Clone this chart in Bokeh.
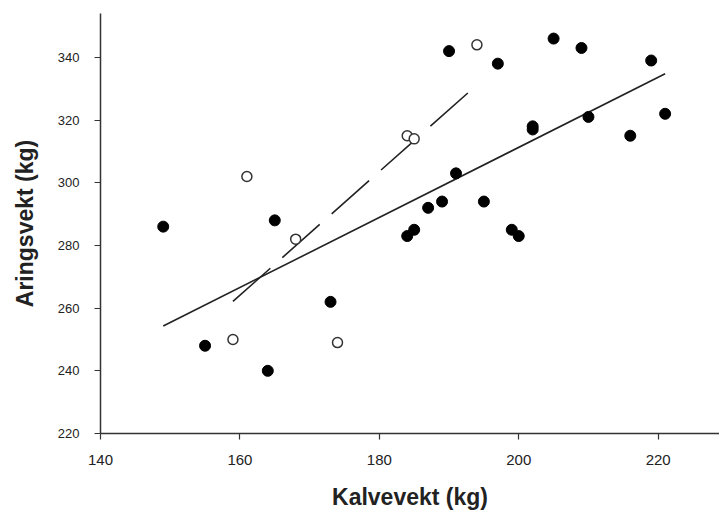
import numpy as np
from bokeh.plotting import figure
from bokeh.models import Range1d, FixedTicker
from bokeh.embed import file_html
from bokeh.resources import INLINE

# Filled circles: calf weight (x) vs yearling weight (y)
filled_x = [149, 155, 164, 165, 173, 184, 185, 187, 189, 190, 191, 195, 197,
            199, 200, 202, 202, 205, 209, 210, 216, 219, 221]
filled_y = [286, 248, 240, 288, 262, 283, 285, 292, 294, 342, 303, 294, 338,
            285, 283, 318, 317, 346, 343, 321, 315, 339, 322]

# Open circles
open_x = [159, 161, 168, 174, 184, 185, 194]
open_y = [250, 302, 282, 249, 315, 314, 344]

x_ticks = [140, 160, 180, 200, 220]
y_ticks = [220, 240, 260, 280, 300, 320, 340]

# Least-squares lines through each group
fa, fb = np.polyfit(filled_x, filled_y, 1)
oa, ob = np.polyfit(open_x, open_y, 1)
fline_x = [min(filled_x), max(filled_x)]
fline_y = [fa * v + fb for v in fline_x]
oline_x = [min(open_x), 193.2]
oline_y = [oa * v + ob for v in oline_x]

p = figure(width=719, height=512, output_backend="svg", toolbar_location=None,
           x_range=Range1d(140, 228.8), y_range=Range1d(220, 354),
           min_border_left=100, min_border_top=13, min_border_bottom=78,
           min_border_right=0)
p.outline_line_color = None
p.grid.visible = False
p.background_fill_color = "white"

p.line(fline_x, fline_y, line_color="#222222", line_width=1.6)
p.line(oline_x, oline_y, line_color="#222222", line_width=1.6, line_dash="50 16")

p.scatter(filled_x, filled_y, size=11, fill_color="black", line_color="black",
          line_width=1)
p.scatter(open_x, open_y, size=10, fill_color="white", line_color="#333333",
          line_width=1.5)

for ax in (p.xaxis[0], p.yaxis[0]):
    ax.axis_line_color = "#333333"
    ax.axis_line_width = 1.5
    ax.major_tick_line_color = "#333333"
    ax.major_tick_line_width = 1.2
    ax.major_tick_out = 6
    ax.major_tick_in = 0
    ax.minor_tick_line_color = None
    ax.major_label_text_font = "Liberation Sans"
    ax.major_label_text_color = "#222222"
    ax.axis_label_text_font = "Liberation Sans"
    ax.axis_label_text_font_style = "bold"
    ax.axis_label_text_color = "#222222"
    ax.axis_label_text_font_size = "23px"

p.xaxis.ticker = FixedTicker(ticks=x_ticks)
p.yaxis.ticker = FixedTicker(ticks=y_ticks)
p.xaxis.axis_label = "Kalvevekt (kg)"
p.yaxis.axis_label = "Aringsvekt (kg)"
p.xaxis.major_label_text_font_size = "15px"
p.yaxis.major_label_text_font_size = "13px"
p.xaxis.major_label_standoff = 15
p.yaxis.major_label_standoff = 15
p.xaxis.axis_label_standoff = 16
p.yaxis.axis_label_standoff = 17

open("out.html", "w").write(file_html(p, INLINE))
